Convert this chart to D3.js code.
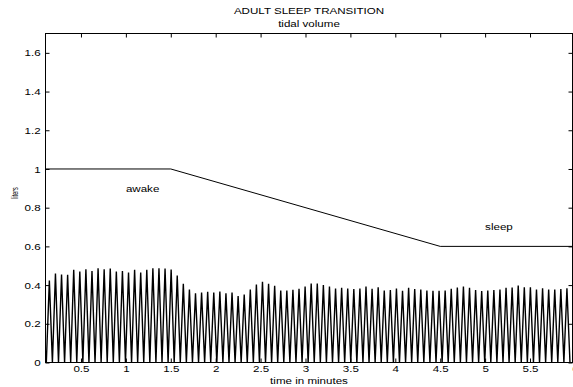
<!DOCTYPE html>
<html>
<head>
<meta charset="utf-8">
<script src="https://cdn.jsdelivr.net/npm/d3@7"></script>
<style>
  body { margin: 0; background: #fff; }
  svg { display: block; }
  text { font-family: "Liberation Sans", Arial, Helvetica, sans-serif; fill: #000; }
</style>
</head>
<body>
<svg id="chart" width="573" height="387"></svg>
<script>
// ---- data -------------------------------------------------------------
// peak tidal volume (liters) of each successive breath
const peakVolume = [
  0.424, 0.460, 0.455, 0.453, 0.479, 0.470, 0.482, 0.473, 0.487, 0.482,
  0.485, 0.470, 0.473, 0.465, 0.479, 0.465, 0.479, 0.487, 0.487, 0.485,
  0.480, 0.450, 0.407, 0.377, 0.358,
  0.362, 0.365, 0.362, 0.367, 0.358, 0.362, 0.343, 0.351, 0.377, 0.403,
  0.417, 0.407, 0.396, 0.372, 0.372, 0.376, 0.381, 0.393, 0.408, 0.408,
  0.400, 0.393, 0.382, 0.386, 0.382, 0.379, 0.382, 0.393, 0.381, 0.389,
  0.372, 0.374, 0.382, 0.370, 0.386, 0.379, 0.377, 0.372, 0.370, 0.370,
  0.372, 0.381, 0.388, 0.393, 0.386, 0.374, 0.369, 0.372, 0.374, 0.377,
  0.386, 0.388, 0.398, 0.389, 0.389, 0.377, 0.384, 0.377, 0.377, 0.379,
  0.384
];
const firstPeakTime = 0.148;   // minutes
const breathPeriod = 0.0678;   // minutes per breath

// ventilatory drive set-point (liters)
const trendTime = [0.1, 1.5, 4.5, 6];
const trendLiters = [1, 1, 0.6, 0.6];

const stateLabels = ["awake", "sleep"];
const stateTime = [1, 5];
const stateLiters = [0.9, 0.7];

const xTicks = [0.5, 1, 1.5, 2, 2.5, 3, 3.5, 4, 4.5, 5, 5.5, 6];
const yTicks = [0, 0.2, 0.4, 0.6, 0.8, 1, 1.2, 1.4, 1.6];

const titleText = "ADULT SLEEP TRANSITION";
const subtitleText = "tidal volume";
const xLabel = "time in minutes";
const yLabel = "liters";

// ---- layout -----------------------------------------------------------
const svg = d3.select("#chart");
const box = { left: 45.5, right: 572.5, top: 33.5, bottom: 362.5 };
const stretch = 1.22;   // wide Helvetica look
const fs = 9.5;

const x = d3.scaleLinear().domain([0.105, 5.973]).range([box.left, box.right]);
const y = d3.scaleLinear().domain([0, 1.7]).range([box.bottom, box.top]);

svg.append("clipPath").attr("id", "plotclip")
  .append("rect")
  .attr("x", box.left).attr("y", box.top - 1)
  .attr("width", box.right - box.left).attr("height", box.bottom - box.top + 1);

// ---- breath waveform --------------------------------------------------
const wave = [];
peakVolume.forEach((v, i) => {
  const tp = firstPeakTime + i * breathPeriod;
  wave.push([tp - breathPeriod / 2, 0]);
  wave.push([tp, v]);
});
wave.push([firstPeakTime + (peakVolume.length - 0.5) * breathPeriod, 0]);

const line = d3.line().x(d => x(d[0])).y(d => y(d[1]));

svg.append("path")
  .attr("clip-path", "url(#plotclip)")
  .attr("d", line(wave))
  .attr("fill", "none")
  .attr("stroke", "#000")
  .attr("stroke-width", 1.4)
  .attr("stroke-linejoin", "miter");

// set-point trend line
svg.append("path")
  .attr("clip-path", "url(#plotclip)")
  .attr("d", line(trendTime.map((t, i) => [t, trendLiters[i]])))
  .attr("fill", "none")
  .attr("stroke", "#000")
  .attr("stroke-width", 1);

// state annotations
stateLabels.forEach((s, i) => {
  svg.append("text")
    .attr("transform", `translate(${x(stateTime[i])},${y(stateLiters[i])}) scale(${stretch},1)`)
    .attr("dy", "0.35em")
    .attr("font-size", fs)
    .text(s);
});

// ---- axes -------------------------------------------------------------
const fmt = d3.format("");

const gx = svg.append("g").attr("transform", `translate(0,${box.bottom})`)
  .call(d3.axisBottom(x).tickValues(xTicks).tickFormat(fmt)
    .tickSizeInner(-4).tickSizeOuter(0).tickPadding(3));
const gxt = svg.append("g").attr("transform", `translate(0,${box.top})`)
  .call(d3.axisTop(x).tickValues(xTicks).tickFormat("")
    .tickSizeInner(-4).tickSizeOuter(0));
const gy = svg.append("g").attr("transform", `translate(${box.left},0)`)
  .call(d3.axisLeft(y).tickValues(yTicks).tickFormat(fmt)
    .tickSizeInner(-4).tickSizeOuter(0).tickPadding(4));
const gyr = svg.append("g").attr("transform", `translate(${box.right},0)`)
  .call(d3.axisRight(y).tickValues(yTicks).tickFormat("")
    .tickSizeInner(-4).tickSizeOuter(0));

[gx, gxt, gy, gyr].forEach(g => {
  g.select(".domain").remove();
  g.selectAll(".tick line").attr("stroke", "#000");
  g.selectAll("text")
    .attr("font-family", null)
    .attr("font-size", fs)
    .attr("fill", "#000");
});
gx.selectAll(".tick text").attr("transform", `scale(${stretch},1)`);
gy.selectAll(".tick text").attr("transform", `scale(${stretch},1)`);

// frame
svg.append("rect")
  .attr("x", box.left).attr("y", box.top)
  .attr("width", box.right - box.left).attr("height", box.bottom - box.top)
  .attr("fill", "none").attr("stroke", "#000").attr("stroke-width", 1);

// ---- titles -----------------------------------------------------------
const cx = (box.left + box.right) / 2;
svg.append("text")
  .attr("transform", `translate(${cx},14) scale(${stretch},1)`)
  .attr("text-anchor", "middle").attr("font-size", fs)
  .text(titleText);
svg.append("text")
  .attr("transform", `translate(${cx},27) scale(${stretch},1)`)
  .attr("text-anchor", "middle").attr("font-size", fs)
  .text(subtitleText);
svg.append("text")
  .attr("transform", `translate(${cx},383.5) scale(${stretch},1)`)
  .attr("text-anchor", "middle").attr("font-size", fs)
  .text(xLabel);
svg.append("text")
  .attr("transform", `translate(17.5,193) rotate(-90) scale(0.68,1.2)`)
  .attr("text-anchor", "middle").attr("font-size", 8)
  .text(yLabel);
</script>
</body>
</html>
